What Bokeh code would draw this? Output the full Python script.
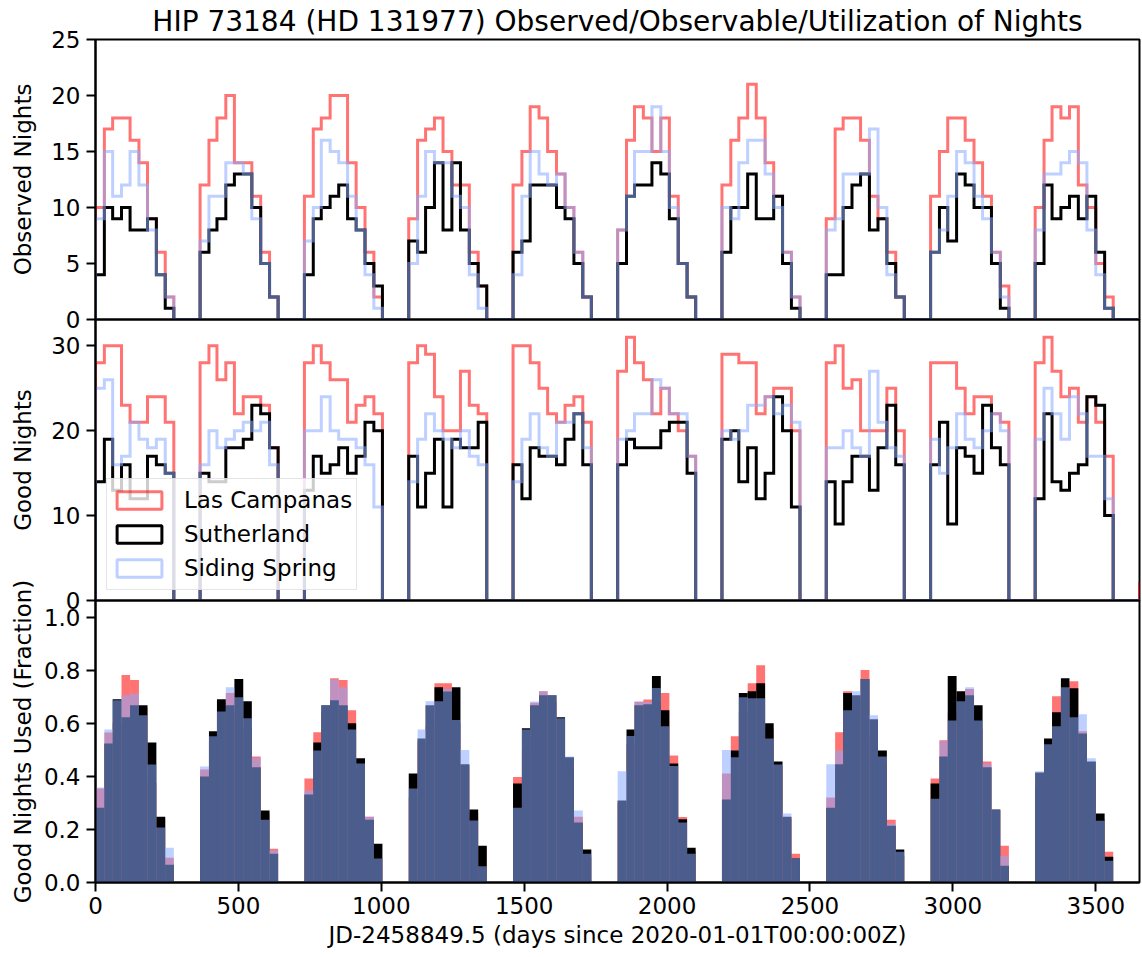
import pandas as pd
from bokeh.plotting import figure
from bokeh.layouts import column
from bokeh.models import Range1d, FixedTicker, Legend, LegendItem, PrintfTickFormatter
from bokeh.embed import file_html
from bokeh.resources import INLINE

FONT = "DejaVu Sans"
RED, BLACK, BLUE = "#ff0000", "#000000", "#88aaff"
ALPHA = 0.55

sites = ["Las Campanas", "Sutherland", "Siding Spring"]

# ---- Observed nights per month (Jan 2020 ... Dec 2029, + Jan 2030) ----
red_obs = [
    10, 17, 18, 18, 16, 14, 9, 6, 2, 0, 0, 0,
    12, 16, 18, 20, 14, 14, 11, 6, 2, 0, 0, 0,
    11, 17, 18, 20, 20, 14, 10, 6, 2, 0, 0, 0,
    9, 16, 17, 18, 15, 12, 12, 6, 3, 0, 0, 0,
    12, 15, 19, 18, 15, 13, 10, 6, 2, 0, 0, 0,
    8, 16, 19, 18, 15, 18, 11, 5, 2, 0, 0, 0,
    12, 16, 18, 21, 18, 14, 11, 6, 2, 0, 0, 0,
    9, 17, 18, 18, 16, 11, 9, 6, 2, 0, 0, 0,
    11, 15, 18, 18, 16, 14, 11, 6, 3, 0, 0, 0,
    10, 16, 19, 18, 19, 12, 10, 5, 2, 0, 0, 0,
    0,
]
black_obs = [
    4, 10, 9, 10, 8, 8, 9, 4, 1, 0, 0, 0,
    6, 8, 9, 12, 13, 13, 10, 5, 2, 0, 0, 0,
    4, 9, 10, 11, 12, 9, 8, 5, 3, 0, 0, 0,
    7, 6, 10, 14, 8, 14, 8, 5, 3, 0, 0, 0,
    6, 7, 12, 12, 12, 10, 9, 5, 2, 0, 0, 0,
    5, 11, 12, 12, 14, 13, 9, 5, 2, 0, 0, 0,
    6, 10, 10, 13, 9, 9, 11, 5, 1, 0, 0, 0,
    4, 4, 10, 12, 13, 8, 9, 5, 2, 0, 0, 0,
    6, 10, 7, 13, 12, 10, 10, 5, 1, 0, 0, 0,
    5, 12, 9, 10, 11, 9, 11, 6, 1, 0, 0, 0,
    0,
]
blue_obs = [
    9, 15, 11, 12, 15, 12, 8, 4, 2, 0, 0, 0,
    7, 11, 11, 14, 14, 13, 9, 5, 2, 0, 0, 0,
    7, 10, 16, 15, 14, 11, 8, 4, 1, 0, 0, 0,
    5, 11, 15, 14, 14, 11, 10, 4, 1, 0, 0, 0,
    4, 11, 15, 13, 12, 13, 10, 6, 2, 0, 0, 0,
    8, 11, 15, 15, 19, 15, 10, 5, 2, 0, 0, 0,
    10, 9, 14, 16, 16, 13, 10, 6, 2, 0, 0, 0,
    8, 9, 13, 13, 13, 17, 10, 4, 2, 0, 0, 0,
    6, 8, 11, 15, 14, 11, 9, 6, 2, 0, 0, 0,
    8, 13, 13, 14, 15, 14, 8, 4, 1, 0, 0, 0,
    0,
]

# ---- Good nights per month ----
red_good = [
    28, 30, 30, 23, 21, 21, 24, 24, 21, 0, 0, 0,
    28, 30, 26, 28, 22, 24, 24, 23, 18, 0, 0, 0,
    28, 30, 28, 26, 26, 21, 23, 24, 22, 0, 0, 0,
    28, 30, 29, 24, 20, 20, 27, 23, 22, 0, 0, 0,
    30, 30, 28, 25, 22, 21, 23, 24, 21, 0, 0, 0,
    27, 31, 28, 26, 22, 25, 22, 20, 17, 0, 0, 0,
    29, 29, 28, 28, 22, 24, 25, 25, 20, 0, 0, 0,
    28, 30, 25, 26, 20, 20, 20, 25, 20, 0, 0, 0,
    28, 28, 28, 25, 22, 24, 24, 22, 21, 0, 0, 0,
    28, 31, 27, 24, 25, 21, 24, 21, 17, 0, 0, 0,
    2,
]
black_good = [
    14, 19, 13, 16, 12, 12, 17, 16, 15, 0, 0, 0,
    15, 14, 14, 18, 18, 19, 23, 22, 18, 0, 0, 0,
    13, 17, 15, 16, 18, 15, 17, 21, 20, 0, 0, 0,
    17, 11, 15, 19, 11, 19, 18, 18, 21, 0, 0, 0,
    16, 12, 18, 17, 17, 16, 19, 22, 16, 0, 0, 0,
    16, 19, 18, 18, 18, 20, 21, 21, 15, 0, 0, 0,
    19, 20, 14, 18, 12, 15, 24, 20, 11, 0, 0, 0,
    14, 9, 14, 17, 17, 13, 18, 23, 16, 0, 0, 0,
    16, 21, 9, 18, 17, 15, 23, 18, 16, 0, 0, 0,
    12, 22, 14, 13, 15, 16, 24, 23, 10, 0, 0, 0,
    0,
]
blue_good = [
    25, 26, 16, 17, 21, 19, 18, 19, 15, 0, 0, 0,
    16, 20, 18, 19, 20, 21, 20, 21, 16, 0, 0, 0,
    20, 20, 24, 20, 19, 19, 18, 16, 11, 0, 0, 0,
    14, 19, 22, 20, 19, 18, 20, 17, 16, 0, 0, 0,
    14, 19, 22, 18, 17, 21, 21, 22, 18, 0, 0, 0,
    19, 20, 22, 22, 26, 25, 22, 22, 17, 0, 0, 0,
    20, 19, 20, 23, 23, 24, 22, 23, 21, 0, 0, 0,
    18, 18, 20, 18, 17, 27, 21, 18, 17, 0, 0, 0,
    19, 15, 18, 22, 19, 18, 20, 22, 20, 0, 0, 0,
    19, 25, 22, 19, 24, 22, 17, 17, 12, 0, 0, 0,
    0,
]

# ---- Fraction of good nights used ----
red_frac = [
    .354, .565, .60, .782, .763, .66, .375, .24, .093, 0, 0, 0,
    .426, .53, .68, .714, .64, .58, .475, .26, .127, 0, 0, 0,
    .392, .566, .64, .770, .763, .649, .43, .248, .09, 0, 0, 0,
    .32, .53, .59, .751, .751, .60, .44, .26, .136, 0, 0, 0,
    .398, .50, .678, .721, .68, .62, .43, .248, .095, 0, 0, 0,
    .30, .52, .681, .690, .68, .714, .479, .247, .118, 0, 0, 0,
    .411, .551, .64, .751, .819, .58, .44, .24, .108, 0, 0, 0,
    .320, .566, .721, .69, .801, .55, .45, .237, .10, 0, 0, 0,
    .392, .536, .64, .70, .729, .58, .456, .27, .139, 0, 0, 0,
    .357, .516, .702, .75, .759, .570, .417, .24, .116, 0, 0, 0,
    0,
]
black_frac = [
    .282, .524, .691, .623, .668, .668, .528, .248, .067, 0, 0, 0,
    .400, .570, .691, .668, .767, .683, .434, .271, .108, 0, 0, 0,
    .332, .528, .668, .687, .668, .600, .468, .237, .146, 0, 0, 0,
    .411, .543, .668, .736, .72, .736, .446, .275, .139, 0, 0, 0,
    .373, .581, .668, .706, .706, .623, .472, .226, .124, 0, 0, 0,
    .309, .577, .668, .672, .778, .649, .449, .238, .131, 0, 0, 0,
    .313, .498, .714, .721, .751, .600, .456, .248, .091, 0, 0, 0,
    .282, .446, .714, .706, .767, .615, .498, .214, .124, 0, 0, 0,
    .373, .475, .778, .721, .706, .668, .434, .275, .063, 0, 0, 0,
    .415, .543, .642, .770, .732, .562, .456, .260, .097, 0, 0, 0,
    0,
]
blue_frac = [
    .358, .577, .687, .706, .712, .630, .445, .207, .131, 0, 0, 0,
    .437, .551, .645, .736, .698, .619, .470, .237, .122, 0, 0, 0,
    .347, .498, .668, .765, .736, .577, .449, .248, .090, 0, 0, 0,
    .354, .577, .683, .683, .729, .613, .499, .234, .061, 0, 0, 0,
    .282, .577, .682, .721, .706, .619, .475, .271, .108, 0, 0, 0,
    .419, .552, .682, .680, .733, .589, .439, .226, .108, 0, 0, 0,
    .499, .472, .698, .695, .695, .543, .445, .260, .091, 0, 0, 0,
    .446, .498, .649, .721, .767, .630, .475, .222, .116, 0, 0, 0,
    .316, .532, .611, .683, .736, .611, .449, .275, .101, 0, 0, 0,
    .419, .521, .589, .736, .623, .634, .468, .233, .082, 0, 0, 0,
    0,
]

top_ticks = [0, 5, 10, 15, 20, 25]
mid_ticks = [0, 10, 20, 30]
bot_ticks = [0.0, 0.2, 0.4, 0.6, 0.8, 1.0]
x_ticks = [0, 500, 1000, 1500, 2000, 2500, 3000, 3500]

# monthly bin edges in days since 2020-01-01
month_starts = pd.date_range("2020-01-01", periods=len(red_obs) + 1, freq="MS")
edges = [float(d) for d in (month_starts - month_starts[0]).days]


def step_xy(vals):
    xs, ys = [edges[0]], [0.0]
    for i, v in enumerate(vals):
        xs += [edges[i], edges[i + 1]]
        ys += [v, v]
    xs.append(edges[len(vals)])
    ys.append(0.0)
    return xs, ys


O = 20
xr = Range1d(0, 3653)


def style(p):
    p.grid.visible = False
    p.outline_line_color = "black"
    p.outline_line_width = 2
    p.background_fill_color = None
    p.border_fill_color = None
    for ax in p.axis:
        ax.axis_line_width = 2
        ax.axis_line_color = "black"
        ax.major_tick_line_width = 2
        ax.major_tick_line_color = "black"
        ax.major_tick_out = 9
        ax.major_tick_in = 0
        ax.minor_tick_out = 0
        ax.minor_tick_in = 0
        ax.major_label_standoff = 6
        ax.major_label_text_font = FONT
        ax.major_label_text_font_size = "23px"
        ax.major_label_text_color = "black"
        ax.axis_label_text_font = FONT
        ax.axis_label_text_font_size = "23px"
        ax.axis_label_text_font_style = "normal"
        ax.axis_label_text_color = "black"


common = dict(width=1142, x_range=xr, output_backend="svg", toolbar_location=None,
              min_border_left=95, min_border_right=3)

p1 = figure(height=38 + 281 + O, y_range=Range1d(0, 25), min_border_top=38,
            min_border_bottom=O, x_axis_location=None,
            title="HIP 73184 (HD 131977) Observed/Observable/Utilization of Nights", **common)
p2 = figure(height=O + 281 + O, y_range=Range1d(0, 33.1), min_border_top=O,
            min_border_bottom=O, x_axis_location=None, margin=(-2 * O, 0, 0, 0), **common)
p3 = figure(height=O + 282 + 75, y_range=Range1d(0, 1.063), min_border_top=O,
            min_border_bottom=75, margin=(-2 * O, 0, 0, 0), **common)

for p in (p1, p2, p3):
    style(p)

p1.title.text_font = FONT
p1.title.text_font_size = "28px"
p1.title.text_font_style = "normal"
p1.title.text_color = "black"
p1.title.align = "center"
p1.title.standoff = 4

series = [(RED, ALPHA), (BLACK, 1.0), (BLUE, ALPHA)]

for vals, (c, a) in zip([red_obs, black_obs, blue_obs], series):
    xs, ys = step_xy(vals)
    p1.line(xs, ys, line_color=c, line_alpha=a, line_width=3, line_join="miter")

for vals, (c, a) in zip([red_good, black_good, blue_good], series):
    xs, ys = step_xy(vals)
    p2.line(xs, ys, line_color=c, line_alpha=a, line_width=3, line_join="miter")

for vals, (c, a) in zip([red_frac, black_frac, blue_frac], series):
    p3.quad(left=edges[:-1], right=edges[1:], bottom=0, top=vals,
            fill_color=c, fill_alpha=a, line_color=None)

# legend proxies: outlined rectangles (like step-histogram patches), placed
# below the visible y range so that only their legend glyph is seen
items = []
for name, (c, a) in zip(sites, series):
    r = p2.quad(left=edges[:1], right=edges[1:2], top=[-2.0], bottom=[-3.0],
                fill_color=None, line_color=c, line_alpha=a, line_width=3)
    items.append(LegendItem(label=name, renderers=[r]))
legend = Legend(items=items, location=(11, 10), label_text_font=FONT,
                label_text_font_size="23px", label_text_color="black",
                glyph_width=56, glyph_height=22, label_height=34, label_standoff=17,
                spacing=0, padding=4, margin=0,
                border_line_color="#cccccc", border_line_width=1.5,
                background_fill_color="white", background_fill_alpha=0.8)
p2.add_layout(legend)

p1.yaxis.ticker = FixedTicker(ticks=top_ticks)
p2.yaxis.ticker = FixedTicker(ticks=mid_ticks)
p3.yaxis.ticker = FixedTicker(ticks=bot_ticks)
p3.yaxis.formatter = PrintfTickFormatter(format="%.1f")
p3.xaxis.ticker = FixedTicker(ticks=x_ticks)

p1.yaxis.axis_label = "Observed Nights"
p2.yaxis.axis_label = "Good Nights"
p3.yaxis.axis_label = "Good Nights Used (Fraction)"
p3.xaxis.axis_label = "JD-2458849.5 (days since 2020-01-01T00:00:00Z)"
p1.yaxis.axis_label_standoff = 12
p2.yaxis.axis_label_standoff = 12
p3.yaxis.axis_label_standoff = 5
p3.xaxis.major_label_standoff = 5
p3.xaxis.axis_label_standoff = 5

layout = column(p1, p2, p3, spacing=0)
open("out.html", "w").write(file_html(layout, INLINE))
